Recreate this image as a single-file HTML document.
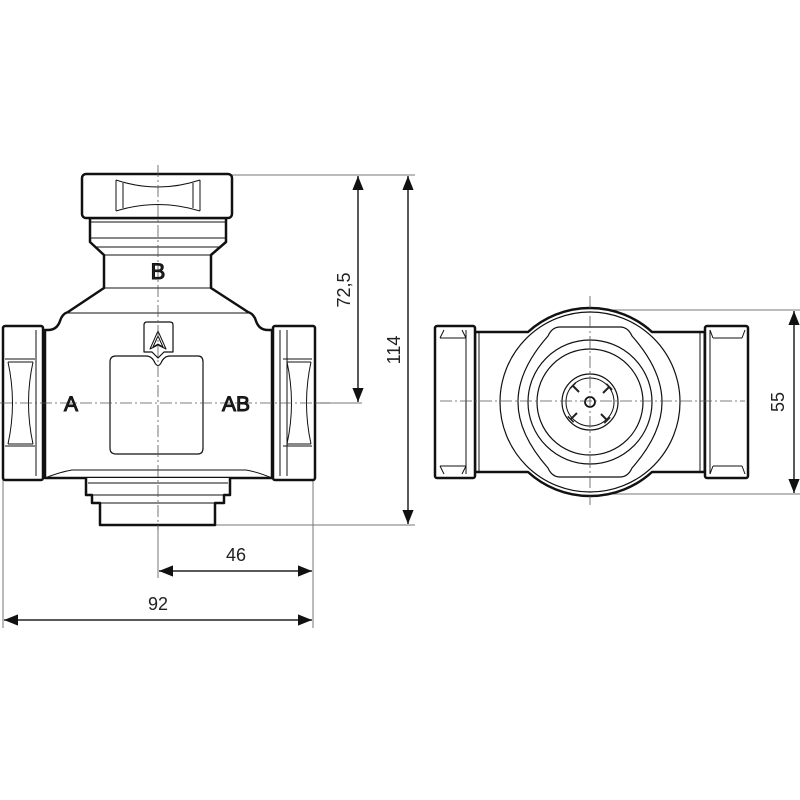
<!DOCTYPE html>
<html><head><meta charset="utf-8"><style>
html,body{margin:0;padding:0;background:#fff;}
svg{display:block}
text{font-family:"Liberation Sans",sans-serif;fill:#222}
</style></head><body>
<svg width="800" height="800" viewBox="0 0 800 800" xmlns="http://www.w3.org/2000/svg">
<defs>
<marker id="ar" viewBox="0 0 10 10" refX="10" refY="5" markerWidth="14" markerHeight="14" markerUnits="userSpaceOnUse" orient="auto-start-reverse">
<path d="M0,1 L10,5 L0,9 Z" fill="#111"/></marker>
</defs>
<rect width="800" height="800" fill="#fff"/>

<g stroke="#777" stroke-width="1" fill="none">
<line x1="232" y1="175" x2="415" y2="175"/>
<line x1="315" y1="403" x2="362" y2="403"/>
<line x1="215" y1="525" x2="415" y2="525"/>
<line x1="158" y1="505" x2="158" y2="578"/>
<line x1="3" y1="480" x2="3" y2="628"/>
<line x1="313" y1="480" x2="313" y2="628"/>
<line x1="593" y1="310" x2="800" y2="310"/>
<line x1="593" y1="494" x2="800" y2="494"/>
</g>
<g stroke="#222" stroke-width="1.5" fill="none">
<line x1="358" y1="176" x2="358" y2="402" marker-start="url(#ar)" marker-end="url(#ar)"/>
<line x1="408" y1="176" x2="408" y2="524" marker-start="url(#ar)" marker-end="url(#ar)"/>
<line x1="159" y1="571" x2="312" y2="571" marker-start="url(#ar)" marker-end="url(#ar)"/>
<line x1="4" y1="620" x2="312" y2="620" marker-start="url(#ar)" marker-end="url(#ar)"/>
<line x1="794" y1="311" x2="794" y2="493" marker-start="url(#ar)" marker-end="url(#ar)"/>
</g>
<text x="236" y="561" font-size="18" text-anchor="middle">46</text>
<text x="158" y="610" font-size="18" text-anchor="middle">92</text>
<text transform="translate(350,290) rotate(-90)" font-size="18" text-anchor="middle">72,5</text>
<text transform="translate(400,350) rotate(-90)" font-size="18" text-anchor="middle">114</text>
<text transform="translate(784,402) rotate(-90)" font-size="18" text-anchor="middle">55</text>

<!-- LEFT VIEW -->
<g stroke="#111" fill="#fff" stroke-linejoin="round">
<path d="M90,218 V242 L104,255 V288 L68,312 Q62,314 60,321 Q57,330 48,330 L45,330 V478 H272 V330 L268,330 Q259,330 256,321 Q254,314 248,312 L211,288 V255 L226,242 V218 Z" stroke-width="2.5"/>
<rect x="82" y="174" width="150" height="44" rx="4" stroke-width="2.5"/>
<path d="M116,180 Q158,194 200,180 M116,211 Q158,198 200,211" stroke-width="1" fill="none"/>
<path d="M116,180 V211 M123,183 V208 M200,180 V211 M193,183 V208" stroke-width="1" fill="none"/>
<path d="M90,222 H226 M90,238 H226 M96,247 H220 M104,255 H211 M104,288 H211 M66,313 H250" stroke-width="1" fill="none"/>
<path d="M45,478 Q60,472 72,470 H246 Q258,472 272,478" stroke-width="1" fill="none"/>
<rect x="3" y="326" width="40" height="154" rx="2" stroke-width="2.5"/>
<path d="M36,330 V476 M43,330 V476" stroke-width="1" fill="none"/>
<path d="M5,359 H35 M5,446 H35 M8,362 Q17,403 8,444 M33,362 Q24,403 33,444 M8,362 H33 M8,444 H33" stroke-width="1" fill="none"/>
<rect x="273" y="326" width="42" height="154" rx="2" stroke-width="2.5"/>
<path d="M280,330 V476 M287,330 V476" stroke-width="1" fill="none"/>
<path d="M283,359 H312 M283,446 H312 M287,362 Q296,403 287,444 M311,362 Q302,403 311,444 M287,362 H311 M287,444 H311" stroke-width="1" fill="none"/>
<path d="M116,356 H146 Q152,356 155,363 Q158,368 161,363 Q164,356 170,356 H198 Q203,356 203,362 V448 Q203,454 198,454 H116 Q110,454 110,448 V362 Q110,356 116,356 Z" stroke-width="1.2"/>
<path d="M147,322 H170 Q173,322 173,325 V352 L164,352 L158,358 L152,352 L144,352 V325 Q144,322 147,322 Z" stroke-width="1.2"/>
<path d="M158,331 L150,349 L158,345 L166,349 Z M158,336 L153,347 L158,344 L163,347 Z" stroke-width="1" fill="none"/>
<path d="M86,478 V495 H92 V503 H100 V525 H215 V503 H224 V495 H230 V478" stroke-width="2.5"/>
<path d="M88,483 H228 M92,495 H224 M95,503 H220" stroke-width="1" fill="none"/>
</g>

<!-- RIGHT VIEW -->
<g stroke="#111" fill="#fff" stroke-linejoin="round">
<path d="M475,332 H528 A92,92 0 0 1 652,332 H705 V472 H652 A92,92 0 0 1 528,472 H475 Z" stroke-width="2.5"/>
<rect x="435" y="326" width="40" height="152" rx="2" stroke-width="2.5"/>
<path d="M440,338 H466 M440,466 H466 M440,338 L444,330 M466,338 L462,330 M440,466 L444,474 M466,466 L462,474 M466,330 V474 M475,332 V472 M479,332 V472" stroke-width="1" fill="none"/>
<rect x="705" y="326" width="43" height="152" rx="2" stroke-width="2.5"/>
<path d="M713,338 H742 M713,466 H742 M713,338 L710,330 M742,338 L745,330 M713,466 L710,474 M742,466 L745,474 M710,330 V474 M704,332 V472 M700,332 V472" stroke-width="1" fill="none"/>
<circle cx="590" cy="402" r="90" stroke-width="1.2"/>
<path d="M560,327 H620 Q628,327 632,336 Q662,370 662,402 Q662,434 632,468 Q628,477 620,477 H560 Q552,477 548,468 Q518,434 518,402 Q518,370 548,336 Q552,327 560,327 Z" stroke-width="1.2"/>
<circle cx="590" cy="402" r="62" stroke-width="1.2"/>
<circle cx="590" cy="402" r="53" stroke-width="1.2"/>
<circle cx="590" cy="402" r="28" stroke-width="1.2"/>
<circle cx="590" cy="402" r="24" stroke-width="1"/>
<circle cx="590" cy="402" r="5" stroke-width="1.8"/>
</g>

<g stroke="#555" stroke-width="0.8" stroke-dasharray="12,3,2,3" fill="none">
<line x1="158" y1="165" x2="158" y2="530"/>
<line x1="0" y1="403" x2="330" y2="403"/>
<line x1="440" y1="401" x2="745" y2="401"/>
<line x1="590" y1="296" x2="590" y2="505"/>
</g>

<text x="158" y="279" font-size="22" text-anchor="middle" fill="#fff" stroke="#111" stroke-width="1">B</text>
<text x="71" y="411" font-size="21" text-anchor="middle" fill="#fff" stroke="#111" stroke-width="1">A</text>
<text x="236" y="411" font-size="21" text-anchor="middle" fill="#fff" stroke="#111" stroke-width="1">AB</text>

<g font-size="14" font-weight="bold" text-anchor="middle" fill="#111">
<text transform="translate(579,392) rotate(-45)">T</text>
<text transform="translate(603,393) rotate(45)">T</text>
<text transform="translate(601,414) rotate(135)">T</text>
<text transform="translate(577,413) rotate(-135)">T</text>
</g>
</svg>
</body></html>
